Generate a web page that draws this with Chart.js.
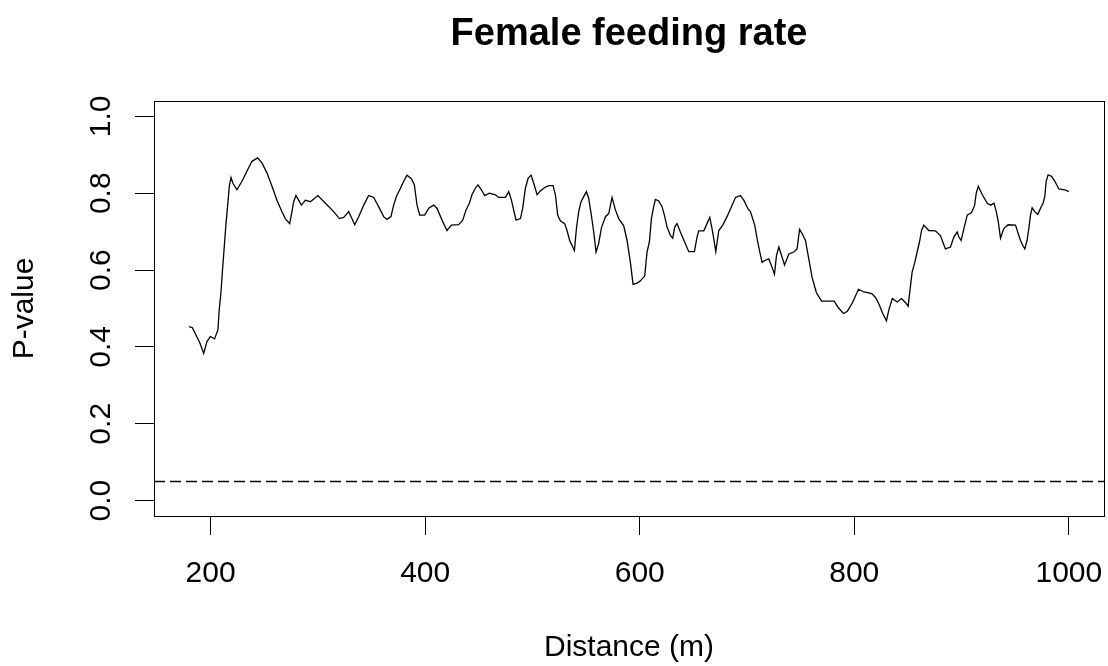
<!DOCTYPE html>
<html>
<head>
<meta charset="utf-8">
<script src="https://cdn.jsdelivr.net/npm/chart.js@4/dist/chart.umd.min.js"></script>
<style>
  html, body { margin: 0; padding: 0; background: #fff; }
</style>
</head>
<body>
<canvas id="plot" width="1108" height="666"></canvas>
<script>
// distance (m) and P-value
const distance = [
  180, 183, 187, 190, 193.5, 196.6, 199.7, 203.7, 206.8, 208, 209.6, 211, 212.8, 214.3, 215.9, 217.4,
  219, 220.8, 224.5, 229.2, 233.8, 238.5, 243.8, 247.8, 252.5, 257.2, 261.8, 266.5, 269.6, 273.7,
  275.8, 277.4, 279.5, 282, 284.6, 288.3, 293, 300, 307, 314.7, 320, 324, 328.7, 331.7, 334.3, 338,
  342.7, 347.3, 352, 356.6, 361.3, 364.4, 368.1, 370.6, 373.1, 376.9, 380, 383, 387.1, 389.9, 392.4,
  394.9, 399.5, 403.3, 407.9, 411, 415.7, 420.3, 424.4, 431.2, 435, 438, 441.2, 443.6, 446.8, 449.2,
  452.4, 455.5, 459.9, 465.4, 468.5, 474.8, 477.9, 480.4, 482.5, 484.7, 488.8, 490.9, 493.4, 495.9,
  498.7, 501.2, 504.3, 507.4, 511.4, 515.2, 519.2, 521.4, 523.5, 526, 530, 532.2, 534.7, 536.9, 539.1,
  541, 543.1, 545.3, 547.8, 550.3, 552.4, 554.9, 557.1, 559.3, 561.8, 564.3, 568, 571.1, 574.2, 577.4,
  580.4, 585.1, 588.2, 591.3, 593.8, 597.5, 600.7, 604.7, 606.8, 609, 610.9, 613, 614.6, 617.7, 620.8,
  623, 625.5, 628.6, 630.8, 632.6, 634.8, 637.9, 641.9, 645.7, 651, 653.4, 655, 659.7, 661.8, 665.3,
  667.4, 669, 670.9, 673.7, 677.4, 681.4, 685.5, 689.3, 693.9, 697, 701, 703.2, 707.2, 709.4, 711.6,
  714.1, 716.6, 720.3, 723.4, 725.6, 727.5, 729.7, 732.2, 735, 739, 743.6, 746.7, 749, 751.4, 754.5,
  757.6, 760.7, 764.7, 769.6, 776.5, 781.2, 785.2, 789.9, 793.6, 798.3, 803.9, 809.1, 816.3, 820,
  823.1, 826.2, 830, 832.3, 835.5, 840, 844, 847.8, 850.2, 852.4, 853.9, 856.4, 858.6, 860.8, 862.7,
  864.8, 869.5, 875.7, 880.4, 882.5, 885, 889.7, 892.8, 895.9, 897.5, 899.6, 902.2, 905.3, 909.4,
  912.2, 913.7, 915.6, 919.4, 924, 927.2, 930.3, 932.4, 934.3, 936.3, 939.4, 943.4, 950.3, 952.8, 955,
  957.1, 959, 961.1, 962.7, 964.3, 965.8, 968.3, 971.1, 973.6, 976, 977.6, 978.9, 980.7, 983.9, 987,
  990.7, 996.3, 1000
];
const pValue = [
  0.453, 0.450, 0.427, 0.410, 0.383, 0.414, 0.427, 0.421, 0.445, 0.497, 0.541, 0.598, 0.664, 0.721, 0.769, 0.818,
  0.841, 0.826, 0.809, 0.831, 0.857, 0.883, 0.892, 0.879, 0.853, 0.818, 0.782, 0.752, 0.734, 0.721,
  0.752, 0.778, 0.794, 0.782, 0.769, 0.782, 0.778, 0.794, 0.774, 0.752, 0.734, 0.737, 0.752, 0.734, 0.718, 0.739,
  0.769, 0.794, 0.789, 0.765, 0.739, 0.732, 0.739, 0.769, 0.791, 0.813, 0.831, 0.847, 0.838, 0.822, 0.769,
  0.743, 0.743, 0.761, 0.769, 0.761, 0.730, 0.703, 0.717, 0.718, 0.730, 0.756, 0.774, 0.796, 0.813, 0.822,
  0.809, 0.794, 0.800, 0.796, 0.789, 0.789, 0.804, 0.782, 0.756, 0.730, 0.734, 0.761, 0.813, 0.839,
  0.847, 0.826, 0.796, 0.806, 0.815, 0.820, 0.820, 0.796, 0.743, 0.728, 0.721, 0.703, 0.677, 0.664, 0.651,
  0.708, 0.752, 0.778, 0.791, 0.804, 0.787, 0.743, 0.699, 0.647, 0.670, 0.710, 0.739, 0.747, 0.789, 0.756,
  0.734, 0.715, 0.677, 0.620, 0.563, 0.566, 0.572, 0.585, 0.647, 0.673, 0.734, 0.765, 0.784, 0.780, 0.765,
  0.743, 0.712, 0.690, 0.683, 0.712, 0.721, 0.699, 0.673, 0.648, 0.648, 0.686, 0.702, 0.702, 0.715, 0.737,
  0.708, 0.682, 0.648, 0.703, 0.717, 0.739, 0.765, 0.789, 0.794, 0.782, 0.759, 0.752, 0.717, 0.682, 0.651,
  0.620, 0.625, 0.629, 0.607, 0.589, 0.638, 0.660, 0.638, 0.613, 0.642, 0.647, 0.655, 0.706, 0.695, 0.677,
  0.629, 0.581, 0.541, 0.519, 0.519, 0.519, 0.502, 0.487, 0.493, 0.515, 0.550, 0.543, 0.539, 0.528,
  0.511, 0.489, 0.468, 0.497, 0.526, 0.517, 0.526, 0.515, 0.506, 0.559, 0.594, 0.620, 0.647, 0.673, 0.703,
  0.717, 0.703, 0.702, 0.689, 0.673, 0.655, 0.660, 0.686, 0.699, 0.686, 0.677, 0.708, 0.743, 0.750,
  0.769, 0.800, 0.818, 0.796, 0.774, 0.769, 0.774, 0.752, 0.725, 0.683, 0.708, 0.718, 0.717, 0.695, 0.677,
  0.664, 0.655, 0.677, 0.708, 0.743, 0.762, 0.752, 0.745, 0.761, 0.774, 0.791, 0.831, 0.848, 0.844, 0.831,
  0.811, 0.809, 0.804
];
const xTicks = [200, 400, 600, 800, 1000];
const yTicks = [0, 0.2, 0.4, 0.6, 0.8, 1.0];
const threshold = 0.05;
const xRange = [147.2, 1032.8];
const yRange = [-0.04, 1.04];

const FONT = '"Liberation Sans", Arial, sans-serif';
Chart.defaults.font.family = FONT;
Chart.defaults.color = '#000';

// R-style plot box and y tick labels written along the axis
const rAxes = {
  id: 'rAxes',
  afterDraw(chart) {
    const { ctx, chartArea: a, scales } = chart;
    ctx.save();
    ctx.strokeStyle = '#000';
    ctx.lineWidth = 1;
    ctx.strokeRect(Math.round(a.left) + 0.5, Math.round(a.top) + 0.5,
      Math.round(a.right - a.left), Math.round(a.bottom - a.top));
    ctx.fillStyle = '#000';
    ctx.font = '30px ' + FONT;
    ctx.textAlign = 'center';
    ctx.textBaseline = 'alphabetic';
    yTicks.forEach(v => {
      const y = scales.y.getPixelForValue(v);
      ctx.save();
      ctx.translate(110, y);
      ctx.rotate(-Math.PI / 2);
      ctx.fillText(v.toFixed(1), 0, 0);
      ctx.restore();
    });
    ctx.restore();
  }
};

new Chart(document.getElementById('plot'), {
  type: 'line',
  data: {
    datasets: [
      {
        data: distance.map((d, i) => ({ x: d, y: pValue[i] })),
        borderColor: '#000',
        borderWidth: 1.3,
        pointRadius: 0,
        tension: 0
      },
      {
        data: xRange.map(d => ({ x: d, y: threshold })),
        borderColor: '#000',
        borderWidth: 1.5,
        borderDash: [11, 5],
        pointRadius: 0
      }
    ]
  },
  options: {
    responsive: false,
    animation: false,
    layout: { padding: { top: 0, right: 4, bottom: 0, left: 0 } },
    plugins: {
      legend: { display: false },
      tooltip: { enabled: false },
      title: {
        display: true,
        fullSize: false,
        text: 'Female feeding rate',
        font: { size: 38, weight: 'bold' },
        color: '#000',
        padding: { top: 12, bottom: 43.4 }
      }
    },
    scales: {
      x: {
        type: 'linear',
        min: xRange[0],
        max: xRange[1],
        afterBuildTicks: s => { s.ticks = xTicks.map(v => ({ value: v })); },
        afterFit: s => { s.height = 150; s.paddingLeft = 0; s.paddingRight = 0; },
        ticks: { font: { size: 30 }, padding: 21, maxRotation: 0, color: '#000', callback: v => String(v) },
        grid: { drawOnChartArea: false, drawTicks: true, tickLength: 19, color: '#000' },
        border: { display: false },
        title: { display: true, text: 'Distance (m)', font: { size: 30 }, padding: { top: 10, bottom: 0 }, color: '#000' }
      },
      y: {
        type: 'linear',
        min: yRange[0],
        max: yRange[1],
        afterBuildTicks: s => { s.ticks = yTicks.map(v => ({ value: v })); },
        afterFit: s => { s.width = 154; },
        ticks: { display: false },
        grid: { drawOnChartArea: false, drawTicks: true, tickLength: 19, color: '#000' },
        border: { display: false },
        title: { display: true, text: 'P-value', font: { size: 30 }, padding: { top: 7, bottom: 0 }, color: '#000' }
      }
    }
  },
  plugins: [rAxes]
});
</script>
</body>
</html>
